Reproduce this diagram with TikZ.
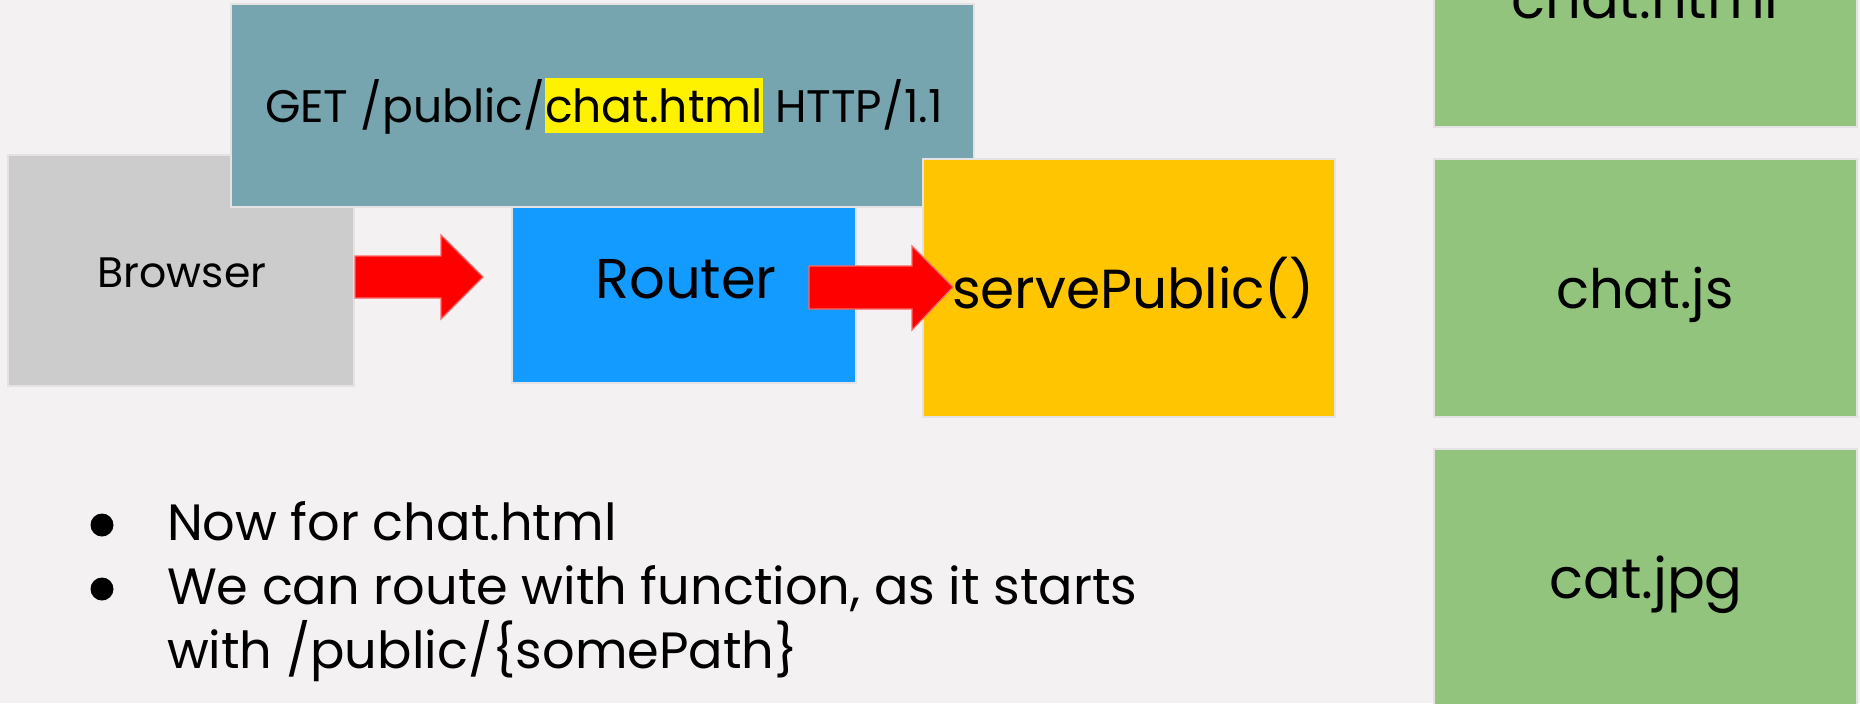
\documentclass[tikz,border=0pt]{standalone}
\usepackage{fontspec}
\setmainfont{Poppins}
\definecolor{bgc}{RGB}{243,241,242}
\definecolor{reqc}{RGB}{118,165,175}
\definecolor{browc}{RGB}{204,204,204}
\definecolor{routc}{RGB}{20,155,255}
\definecolor{servc}{RGB}{255,197,0}
\definecolor{filec}{RGB}{147,196,125}
\definecolor{edgec}{RGB}{228,226,227}
\newcommand{\fsz}[1]{\fontsize{#1}{1.2\dimexpr#1\relax}\selectfont}
\newcommand{\hilite}[1]{{\setlength{\fboxsep}{0pt}\colorbox{yellow}{\rule[-5.5pt]{0pt}{27.5pt}#1}}}
\tikzset{
  box/.style={draw=edgec, line width=1.2pt},
  lbl/.style={inner sep=0pt, outer sep=0pt, text=black},
  blockarrow/.style={fill=red, draw=red!60!white, line width=0.6pt},
  dot/.style={circle, fill=black, inner sep=0pt, minimum width=10.5pt, minimum height=11.5pt}
}
\begin{document}
\begin{tikzpicture}[x=0.5pt, y=-0.5pt]
  \useasboundingbox (0,0) rectangle (1860,703);
  \fill[bgc] (0,0) rectangle (1860,703);

  % browser
  \filldraw[box, fill=browc] (8,155) rectangle (354,386);
  \node[lbl, anchor=base] (browser) at (182,287) {\fsz{21.3pt}Browser};

  % request line
  \filldraw[box, fill=reqc] (231,4) rectangle (974,207);
  \node[lbl, anchor=base west] (request) at (265,122)
    {\fsz{22.8pt}GET /public/\hilite{chat.html} HTTP/1.1};

  % router
  \filldraw[box, fill=routc] (512,207) rectangle (856,383);
  \node[lbl, anchor=base] (router) at (686,298) {\fsz{28pt}Router};

  % servePublic handler
  \filldraw[box, fill=servc] (923,159) rectangle (1335,417);

  % static files
  \filldraw[box, fill=filec] (1434,-20) rectangle (1857,127);
  \node[lbl, anchor=base] (chathtml) at (1645,18) {\fsz{28pt}chat.html};
  \filldraw[box, fill=filec] (1434,159) rectangle (1857,417);
  \node[lbl, anchor=base] (chatjs) at (1645,308) {\fsz{27.2pt}chat.js};
  \filldraw[box, fill=filec] (1434,449) rectangle (1857,720);
  \node[lbl, anchor=base] (catjpg) at (1646,598) {\fsz{28pt}cat.jpg};

  % block arrows
  \coordinate (a1) at (355,277);
  \filldraw[blockarrow] (a1) ++(0,-21) -- (441,256) -- (441,235) -- (483,277)
    -- (441,319) -- (441,298) -- (355,298) -- cycle;
  \coordinate (a2) at (809,287);
  \filldraw[blockarrow] (a2) ++(0,-21) -- (912,266) -- (912,246) -- (953,287)
    -- (912,330) -- (912,309) -- (809,309) -- cycle;

  \node[lbl, anchor=base west] (serve) at (952,308) {\fsz{27.5pt}servePublic()};

  % notes
  \node[dot] (b1) at (102,525) {};
  \node[dot] (b2) at (102,589) {};
  \node[lbl, anchor=base west] (n1) at (167,540) {\fsz{25.5pt}Now for chat.html};
  \node[lbl, anchor=base west] (n2) at (167,604) {\fsz{25.5pt}We can route with function, as it starts};
  \node[lbl, anchor=base west] (n3) at (167,668) {\fsz{25.5pt}with /public/\{somePath\}};
\end{tikzpicture}
\end{document}
